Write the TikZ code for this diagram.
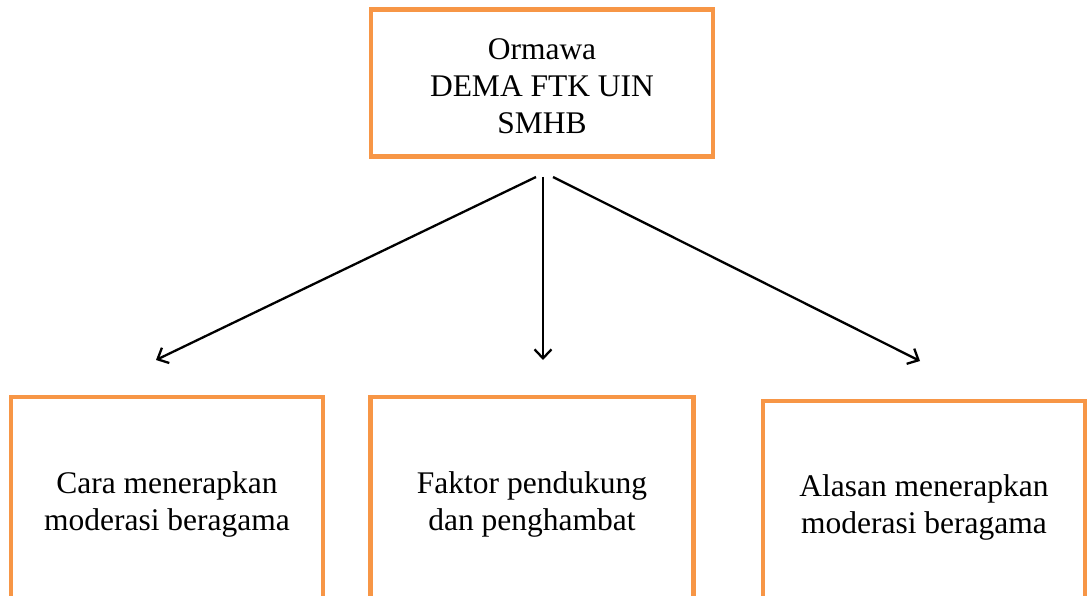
\documentclass[tikz,border=0pt]{standalone}
\usepackage{fontspec}
\setmainfont{Liberation Serif}
\usetikzlibrary{arrows.meta}
\definecolor{boxorange}{HTML}{F79646}
\newcommand{\upstrut}{\rule{0pt}{27.5pt}}
\newcommand{\downstrut}{\rule[-18pt]{0pt}{0pt}}
\begin{document}
\begin{tikzpicture}[x=1pt,y=-1pt,
  obox/.style={draw=boxorange, line width=4.5pt, fill=white, align=center,
    inner sep=0pt, font=\fontsize{31.5}{37}\selectfont},
  conn/.style={line width=2.3pt, -{Straight Barb[length=9pt,width=17pt,line width=2.3pt]}}]
\useasboundingbox (0,0) rectangle (1088,596);
\clip (0,0) rectangle (1088,596);
\fill[white] (0,0) rectangle (1088,596);
\node[obox, minimum width=342pt, minimum height=147pt] (top) at (542,83) {\upstrut Ormawa\\DEMA FTK UIN\\SMHB};
\node[obox, minimum width=312pt, minimum height=226pt] (left) at (167,510) {Cara menerapkan\\moderasi beragama\downstrut};
\node[obox, minimum width=323pt, minimum height=226pt] (mid) at (532,510) {Faktor pendukung\\dan penghambat\downstrut};
\node[obox, minimum width=322pt, minimum height=224pt] (right) at (924,513) {Alasan menerapkan\\moderasi beragama\downstrut};
\coordinate (s1) at (536,177);
\coordinate (s2) at (543,177);
\coordinate (s3) at (553,177);
\coordinate (e1) at (156,360);
\coordinate (e2) at (543,360);
\coordinate (e3) at (920,361);
\draw[conn] (s1) -- (e1);
\draw[conn] (s2) -- (e2);
\draw[conn] (s3) -- (e3);
\end{tikzpicture}
\end{document}
